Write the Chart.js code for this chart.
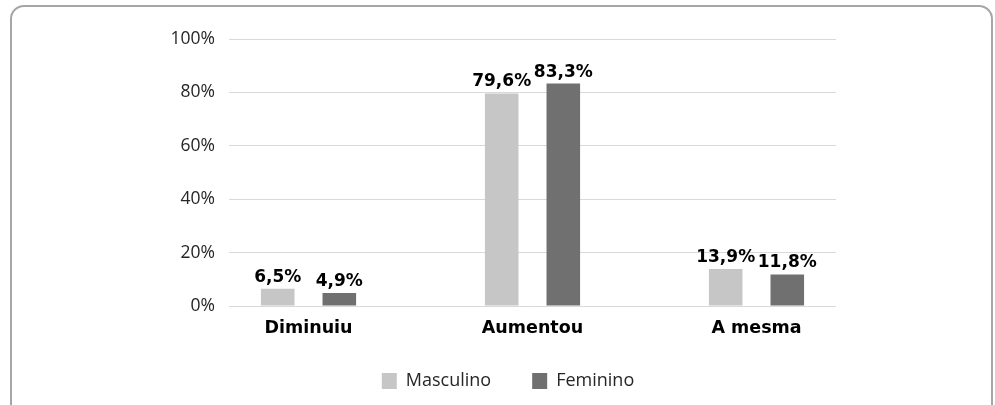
<!DOCTYPE html>
<html>
<head>
<meta charset="utf-8">
<script src="https://cdn.jsdelivr.net/npm/chart.js@4.4.0/dist/chart.umd.min.js"></script>
<style>
  html, body { margin: 0; padding: 0; background: #fff; }
  #frame {
    position: absolute; left: 10px; top: 5px; width: 983px; height: 420px;
    box-sizing: border-box; border: 2px solid #a6a6a6; border-radius: 14px;
  }
  #wrap { position: absolute; left: 0; top: 0; width: 995px; height: 405px; }
</style>
</head>
<body>
<div id="frame"></div>
<div id="wrap"><canvas id="barChart" width="995" height="405"></canvas></div>
<script>
// categorias e valores (%)
const categorias = ["Diminuiu", "Aumentou", "A mesma"];
const masculino = [6.5, 79.6, 13.9];
const feminino = [4.9, 83.3, 11.8];
const yTicks = [0, 20, 40, 60, 80, 100];

const fmt = v => v.toFixed(1).replace('.', ',') + '%';

// rótulos de valor em cima das barras
const valueLabels = {
  id: 'valueLabels',
  afterDatasetsDraw(chart) {
    const ctx = chart.ctx;
    ctx.save();
    ctx.font = 'bold 17px "DejaVu Sans"';
    ctx.fillStyle = '#000';
    ctx.textAlign = 'center';
    ctx.textBaseline = 'alphabetic';
    chart.data.datasets.forEach((ds, i) => {
      chart.getDatasetMeta(i).data.forEach((bar, j) => {
        ctx.fillText(fmt(ds.data[j].y), bar.x, bar.y - 7);
      });
    });
    ctx.restore();
  }
};

// a legenda fica um pouco deslocada (como no original)
const moveLegend = {
  id: 'moveLegend',
  afterLayout(chart) {
    const lg = chart.legend;
    if (!lg) return;
    lg.left += 10; lg.right += 10;
    lg.top -= 5; lg.bottom -= 5;
  }
};

const CHART = document.getElementById("barChart");

let barChart = new Chart(CHART, {
  type: 'bar',
  data: {
    datasets: [{
      label: 'Masculino',
      data: categorias.map((c, i) => ({ x: i, y: masculino[i] })),
      backgroundColor: '#c6c6c6'
    }, {
      label: 'Feminino',
      data: categorias.map((c, i) => ({ x: i, y: feminino[i] })),
      backgroundColor: '#707070'
    }]
  },
  options: {
    responsive: false,
    animation: false,
    devicePixelRatio: 1,
    categoryPercentage: 0.55,
    barPercentage: 0.545,
    layout: { padding: { left: 160, right: 159, top: 39, bottom: 0 } },
    scales: {
      x: {
        type: 'linear',
        bounds: 'data',
        offset: false,
        min: -0.355,
        max: 2.355,
        afterBuildTicks: s => { s.ticks = categorias.map((c, i) => ({ value: i })); },
        afterFit: s => { s.height = 30; },
        grid: { display: false, drawTicks: false },
        border: { display: false },
        ticks: {
          autoSkip: false,
          maxRotation: 0,
          padding: 12,
          color: '#000',
          font: { family: 'DejaVu Sans', size: 17.5, weight: 'bold' },
          callback: v => categorias[v]
        }
      },
      y: {
        min: 0,
        max: 100,
        afterBuildTicks: s => { s.ticks = yTicks.map(v => ({ value: v })); },
        afterFit: s => { s.width = 69; },
        grid: { color: '#d9d9d9', lineWidth: 1, drawTicks: false },
        border: { display: false },
        ticks: {
          padding: 14,
          color: '#262626',
          font: { family: 'Open Sans', size: 17.5 },
          callback: v => v + '%'
        }
      }
    },
    plugins: {
      tooltip: { enabled: false },
      legend: {
        position: 'bottom',
        labels: {
          boxWidth: 15,
          boxHeight: 16,
          padding: 41,
          color: '#262626',
          font: { family: 'Open Sans', size: 18 }
        }
      }
    }
  },
  plugins: [valueLabels, moveLegend]
});
</script>
</body>
</html>
